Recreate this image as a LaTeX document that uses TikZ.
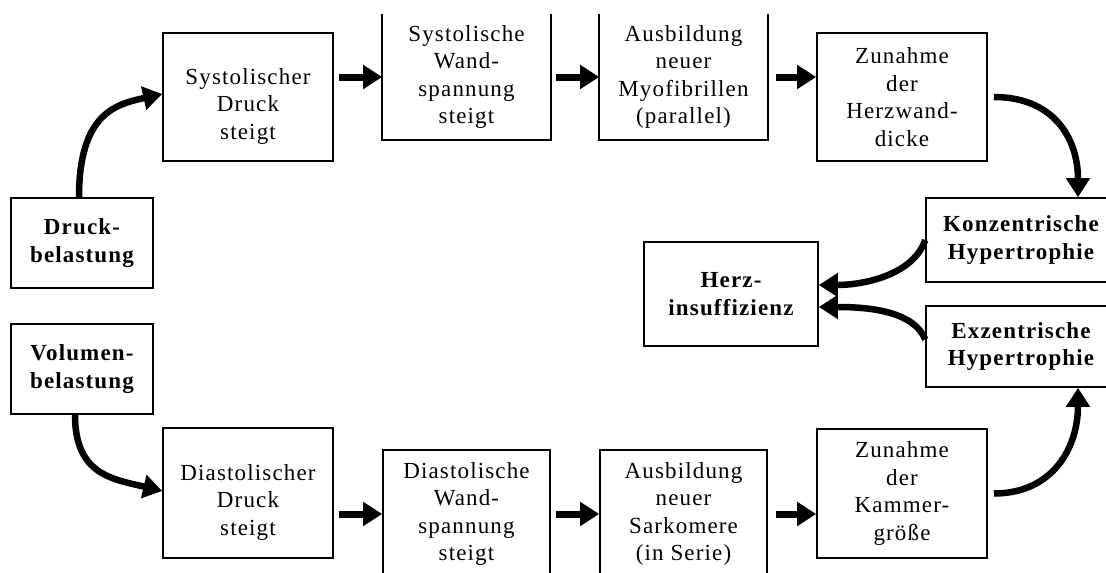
\documentclass[tikz,border=0pt]{standalone}
\usepackage{fontspec}
\newfontfamily\bildschrift{Liberation Serif}[LetterSpace=5]
\usetikzlibrary{arrows.meta}
\begin{document}
\begin{tikzpicture}[x=1pt,y=-1pt,
    kasten/.style={draw,line width=1.6pt,align=center,inner sep=0pt,font=\bildschrift\fontsize{23}{27.5}\selectfont},
    offen/.style={kasten,draw=none},
    fett/.style={kasten,font=\bildschrift\fontsize{23}{27.5}\selectfont\bfseries},
    pfeil/.style={line width=7pt,-{Triangle[length=19pt,width=23pt]}},
    bogen/.style={line width=6.5pt,-{Triangle[length=19pt,width=23pt]}}]
    \path[use as bounding box,fill=white] (0,0) rectangle (1106,573);
    % Belastung links
    \node[fett,minimum width=142pt,minimum height=90pt] (druck) at (82,243) {Druck-\\belastung};
    \node[fett,minimum width=142pt,minimum height=90pt] (volumen) at (82,369) {Volumen-\\belastung};
    % obere Reihe
    \node[kasten,minimum width=170pt,minimum height=128pt] (sysdruck) at (248,97) {\rule{0pt}{34pt}Systolischer\\Druck\\steigt};
    \node[offen,minimum width=167pt,minimum height=124pt] (syswand) at (466.5,77) {Systolische\\Wand-\\spannung\\steigt};
    \node[offen,minimum width=167pt,minimum height=124pt] (myofib) at (683.5,77) {Ausbildung\\neuer\\Myofibrillen\\(parallel)};
    \node[kasten,minimum width=170pt,minimum height=128pt] (wanddicke) at (902,97) {Zunahme\\der\\Herzwand-\\dicke};
    \foreach \n in {syswand,myofib}
        \draw[line width=1.6pt] (\n.north west) -- (\n.south west) -- (\n.south east) -- (\n.north east);
    % rechts
    \node[fett,minimum width=190pt,minimum height=84pt] (konz) at (1021,240) {Konzentrische\\Hypertrophie};
    \node[fett,minimum width=190pt,minimum height=81pt] (exz) at (1021,346.5) {Exzentrische\\Hypertrophie};
    \node[fett,minimum width=174pt,minimum height=104pt] (herz) at (731,294) {Herz-\\insuffizienz};
    % untere Reihe
    \node[kasten,minimum width=170pt,minimum height=130pt] (diadruck) at (248,493) {\rule{0pt}{34pt}Diastolischer\\Druck\\steigt};
    \node[kasten,minimum width=167pt,minimum height=128pt] (diawand) at (466.5,514) {Diastolische\\Wand-\\spannung\\steigt};
    \node[kasten,minimum width=167pt,minimum height=128pt] (sarko) at (683.5,514) {Ausbildung\\neuer\\Sarkomere\\(in Serie)};
    \node[kasten,minimum width=170pt,minimum height=129pt] (kammer) at (902,493.5) {Zunahme\\der\\Kammer-\\größe};
    % Pfeile
    \draw[pfeil,shorten <=5pt] (sysdruck.east |- syswand.west) -- (syswand.west);
    \draw[pfeil,shorten <=5pt] (syswand.east) -- (myofib.west);
    \draw[pfeil,shorten <=8pt] (myofib.east) -- (myofib.east -| wanddicke.west);
    \draw[pfeil,shorten <=5pt] (diadruck.east |- diawand.west) -- (diawand.west);
    \draw[pfeil,shorten <=5pt] (diawand.east) -- (sarko.west);
    \draw[pfeil,shorten <=8pt] (sarko.east) -- (sarko.east -| kammer.west);
    \draw[bogen] ([xshift=-3pt]druck.north) .. controls +(0,-85) and +(-45,10) .. ([yshift=3pt]sysdruck.west);
    \draw[bogen] ([xshift=-7pt]volumen.south) .. controls +(0,60) and +(-50,-12) .. ([yshift=2pt]diadruck.west);
    \draw[bogen,shorten <=6pt] (wanddicke.east) .. controls +(65,0) and +(0,-60) .. ([xshift=57pt]konz.north);
    \draw[bogen,shorten <=6pt] (kammer.east) .. controls +(65,0) and +(0,60) .. ([xshift=57pt]exz.south);
    \draw[bogen] (konz.west) .. controls +(-12,35) and +(45,0) .. ([yshift=9pt]herz.east);
    \draw[bogen] ([yshift=7pt]exz.west) .. controls +(-12,-30) and +(45,0) .. ([yshift=-13pt]herz.east);
\end{tikzpicture}
\end{document}
